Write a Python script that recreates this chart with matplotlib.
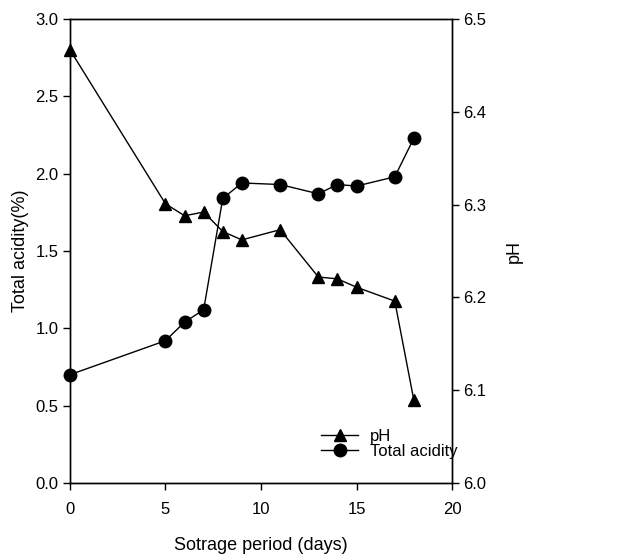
import matplotlib
matplotlib.use("Agg")
import matplotlib.pyplot as plt

plt.rcParams["font.family"] = ["Liberation Sans", "DejaVu Sans"]

days = [0, 5, 6, 7, 8, 9, 11, 13, 14, 15, 17, 18]
acidity = [0.70, 0.92, 1.04, 1.12, 1.84, 1.94, 1.93, 1.87, 1.93, 1.92, 1.98, 2.23]
ph = [6.467, 6.301, 6.288, 6.292, 6.271, 6.262, 6.273, 6.222, 6.220, 6.211, 6.196, 6.089]

fig = plt.figure(figsize=(6.35, 5.6), dpi=100)
ax = fig.add_axes([0.110, 0.1375, 0.602, 0.8285])
ax2 = ax.twinx()

l2, = ax.plot(days, acidity, color="black", lw=1, marker="o", markersize=9,
              label="Total acidity", clip_on=False, zorder=3)
l1, = ax2.plot(days, ph, color="black", lw=1, marker="^", markersize=9,
               label="pH", clip_on=False, zorder=3)

ax.set_xlim(0, 20)
ax.set_ylim(0, 3.0)
ax2.set_ylim(6.0, 6.5)
ax.set_xticks([0, 5, 10, 15, 20])
ax.set_yticks([0.0, 0.5, 1.0, 1.5, 2.0, 2.5, 3.0])
ax.set_yticklabels(["0.0", "0.5", "1.0", "1.5", "2.0", "2.5", "3.0"])
ax2.set_yticks([6.0, 6.1, 6.2, 6.3, 6.4, 6.5])

for a in (ax, ax2):
    a.tick_params(direction="out", length=5, width=1, labelsize=12)
    for s in a.spines.values():
        s.set_linewidth(1)
ax.tick_params(axis="x", pad=9)
ax.tick_params(axis="y", pad=3)
ax2.tick_params(axis="y", pad=3)

ax.set_xlabel("Sotrage period (days)", fontsize=13, labelpad=14)
ax.set_ylabel("Total acidity(%)", fontsize=13, labelpad=5)
ax2.set_ylabel("pH", fontsize=13, labelpad=14)

ax.legend([l1, l2], ["pH", "Total acidity"], loc="lower left",
          bbox_to_anchor=(0.64, 0.038), frameon=False, fontsize=12,
          handlelength=2.2, handletextpad=0.7, labelspacing=0.0,
          borderaxespad=0)

fig.savefig("out.png", dpi=100)
